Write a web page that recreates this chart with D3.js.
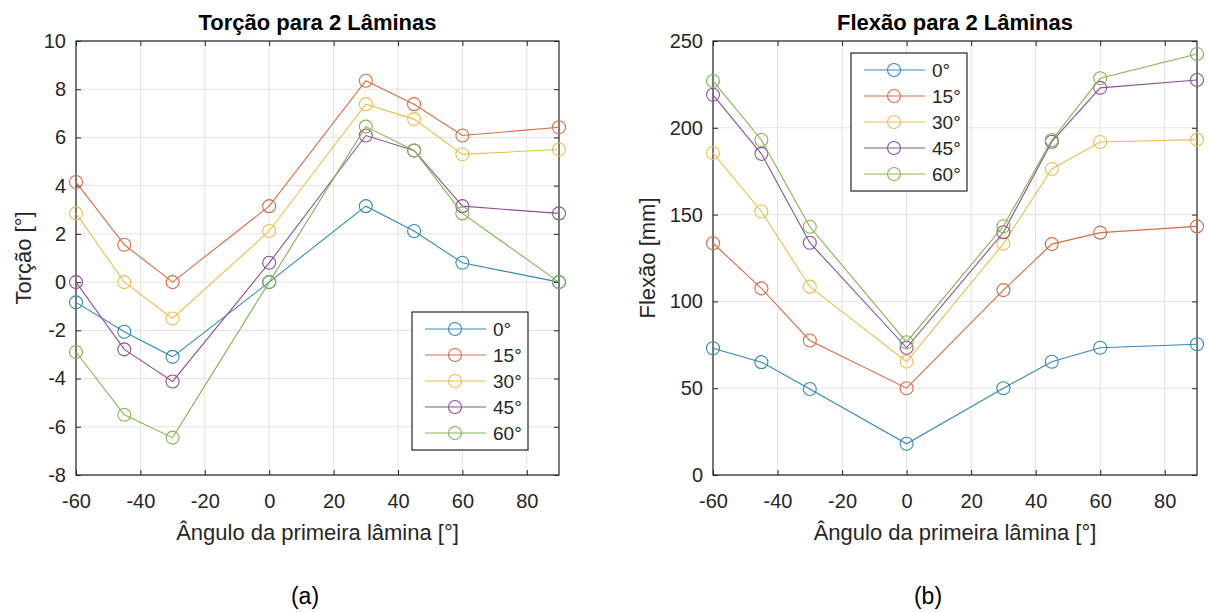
<!DOCTYPE html>
<html>
<head>
<meta charset="utf-8">
<script src="https://cdn.jsdelivr.net/npm/d3@7"></script>
<style>
  body { margin: 0; background: #fff; }
  text { font-family: "Liberation Sans", Arial, sans-serif; }
</style>
</head>
<body>
<div id="chart"></div>
<script>
  // angulo da primeira lamina
  const angles = [-60, -45, -30, 0, 30, 45, 60, 90]
  const seriesNames = ["0°", "15°", "30°", "45°", "60°"]
  const colors = ["#3588bd", "#d76c45", "#eabf52", "#8a5299", "#86b352"]

  // torcao [graus]
  const torcao0  = [-0.84, -2.06, -3.10, 0.00, 3.15, 2.12, 0.80, 0.00]
  const torcao15 = [4.15, 1.55, 0.00, 3.15, 8.35, 7.38, 6.08, 6.42]
  const torcao30 = [2.85, 0.00, -1.51, 2.12, 7.38, 6.76, 5.30, 5.50]
  const torcao45 = [0.00, -2.79, -4.12, 0.80, 6.08, 5.46, 3.15, 2.85]
  const torcao60 = [-2.90, -5.50, -6.45, 0.00, 6.45, 5.46, 2.85, 0.00]

  // flexao [mm]
  const flexao0  = [73.0, 65.0, 49.5, 18.0, 50.0, 65.2, 73.3, 75.3]
  const flexao15 = [133.5, 107.5, 77.5, 50.0, 106.5, 133.0, 139.6, 143.2]
  const flexao30 = [185.5, 151.8, 108.5, 65.3, 133.3, 176.3, 191.8, 193.2]
  const flexao45 = [219.0, 185.0, 133.8, 73.3, 139.8, 192.0, 223.0, 227.5]
  const flexao60 = [227.0, 193.0, 143.0, 76.5, 143.3, 193.0, 228.5, 242.5]

  const xTicks = [-60, -40, -20, 0, 20, 40, 60, 80]
  const torcaoTicks = [-8, -6, -4, -2, 0, 2, 4, 6, 8, 10]
  const flexaoTicks = [0, 50, 100, 150, 200, 250]

  const W = 1208, H = 612
  const ink = "#262626"
  const fmt = d => String(d)   // plain hyphen, like the original

  const svg = d3.select("#chart").append("svg")
    .attr("width", W)
    .attr("height", H)

  function drawPanel(p) {
    const x = d3.scaleLinear().domain([-60, 90]).range([p.left, p.right])
    const y = d3.scaleLinear().domain(p.yDomain).range([p.bottom, p.top])
    const g = svg.append("g")

    // grid
    g.append("g").selectAll("line").data(xTicks).join("line")
      .attr("x1", d => x(d)).attr("x2", d => x(d))
      .attr("y1", p.top).attr("y2", p.bottom)
      .attr("stroke", "#e3e3e3").attr("stroke-width", 1)
    g.append("g").selectAll("line").data(p.yTicks).join("line")
      .attr("x1", p.left).attr("x2", p.right)
      .attr("y1", d => y(d)).attr("y2", d => y(d))
      .attr("stroke", "#e3e3e3").attr("stroke-width", 1)

    // axes, ticks pointing in
    const bottom = g.append("g").attr("transform", `translate(0,${p.bottom})`)
      .call(d3.axisBottom(x).tickValues(xTicks).tickSize(-5).tickPadding(33).tickFormat(fmt))
    const left = g.append("g").attr("transform", `translate(${p.left},0)`)
      .call(d3.axisLeft(y).tickValues(p.yTicks).tickSize(-5).tickPadding(10).tickFormat(fmt))
    const top = g.append("g").attr("transform", `translate(0,${p.top})`)
      .call(d3.axisTop(x).tickValues(xTicks).tickSize(-5).tickFormat(""))
    const right = g.append("g").attr("transform", `translate(${p.right},0)`)
      .call(d3.axisRight(y).tickValues(p.yTicks).tickSize(-5).tickFormat(""))
    for (const a of [bottom, left, top, right]) {
      a.select(".domain").remove()
      a.selectAll("line").attr("stroke", ink)
      a.selectAll("text").attr("fill", ink).style("font-size", "20px")
    }
    bottom.selectAll("text").attr("dy", "0")

    g.append("rect")
      .attr("x", p.left).attr("y", p.top)
      .attr("width", p.right - p.left).attr("height", p.bottom - p.top)
      .attr("fill", "none").attr("stroke", ink).attr("stroke-width", 1.2)

    // series
    const line = d3.line().x((d, i) => x(angles[i])).y(d => y(d))
    p.series.forEach((s, k) => {
      g.append("path").datum(s)
        .attr("d", line)
        .attr("fill", "none")
        .attr("stroke", colors[k])
        .attr("stroke-width", 1.1)
      g.append("g").selectAll("circle").data(s).join("circle")
        .attr("cx", (d, i) => x(angles[i]))
        .attr("cy", d => y(d))
        .attr("r", 6.5)
        .attr("fill", "none")
        .attr("stroke", colors[k])
        .attr("stroke-width", 1.1)
    })

    // titles and labels
    const cx = (p.left + p.right) / 2
    g.append("text").attr("x", cx).attr("y", 30)
      .attr("text-anchor", "middle").attr("font-weight", "bold")
      .style("font-size", "22px").attr("fill", "#000")
      .text(p.title)
    g.append("text").attr("x", cx).attr("y", 540)
      .attr("text-anchor", "middle").style("font-size", "22px").attr("fill", ink)
      .text("Ângulo da primeira lâmina [°]")
    g.append("text")
      .attr("transform", `translate(${p.yLabelX},${(p.top + p.bottom) / 2}) rotate(-90)`)
      .attr("text-anchor", "middle").style("font-size", "22px").attr("fill", ink)
      .text(p.yLabel)
    g.append("text").attr("x", p.capX).attr("y", 604)
      .attr("text-anchor", "middle").style("font-size", "23px").attr("fill", "#000")
      .text(p.caption)

    // legend
    const lg = g.append("g").attr("transform", `translate(${p.legX},${p.legY})`)
    lg.append("rect").attr("width", 116).attr("height", 138)
      .attr("fill", "#fff").attr("stroke", ink).attr("stroke-width", 1.2)
    seriesNames.forEach((name, k) => {
      const ry = 17 + k * 26
      lg.append("line").attr("x1", 13).attr("x2", 74).attr("y1", ry).attr("y2", ry)
        .attr("stroke", colors[k]).attr("stroke-width", 1.1)
      lg.append("circle").attr("cx", 43).attr("cy", ry).attr("r", 6.5)
        .attr("fill", "none").attr("stroke", colors[k]).attr("stroke-width", 1.1)
      lg.append("text").attr("x", 81).attr("y", ry + 7)
        .style("font-size", "19px").attr("fill", ink).text(name)
    })
  }

  drawPanel({
    left: 76, right: 559, top: 41, bottom: 475,
    yDomain: [-8, 10], yTicks: torcaoTicks,
    series: [torcao0, torcao15, torcao30, torcao45, torcao60],
    title: "Torção para 2 Lâminas", yLabel: "Torção [°]", yLabelX: 31,
    caption: "(a)", capX: 305, legX: 412, legY: 312
  })

  drawPanel({
    left: 713, right: 1197, top: 41, bottom: 475,
    yDomain: [0, 250], yTicks: flexaoTicks,
    series: [flexao0, flexao15, flexao30, flexao45, flexao60],
    title: "Flexão para 2 Lâminas", yLabel: "Flexão [mm]", yLabelX: 655,
    caption: "(b)", capX: 928, legX: 851, legY: 53
  })
</script>
</body>
</html>
